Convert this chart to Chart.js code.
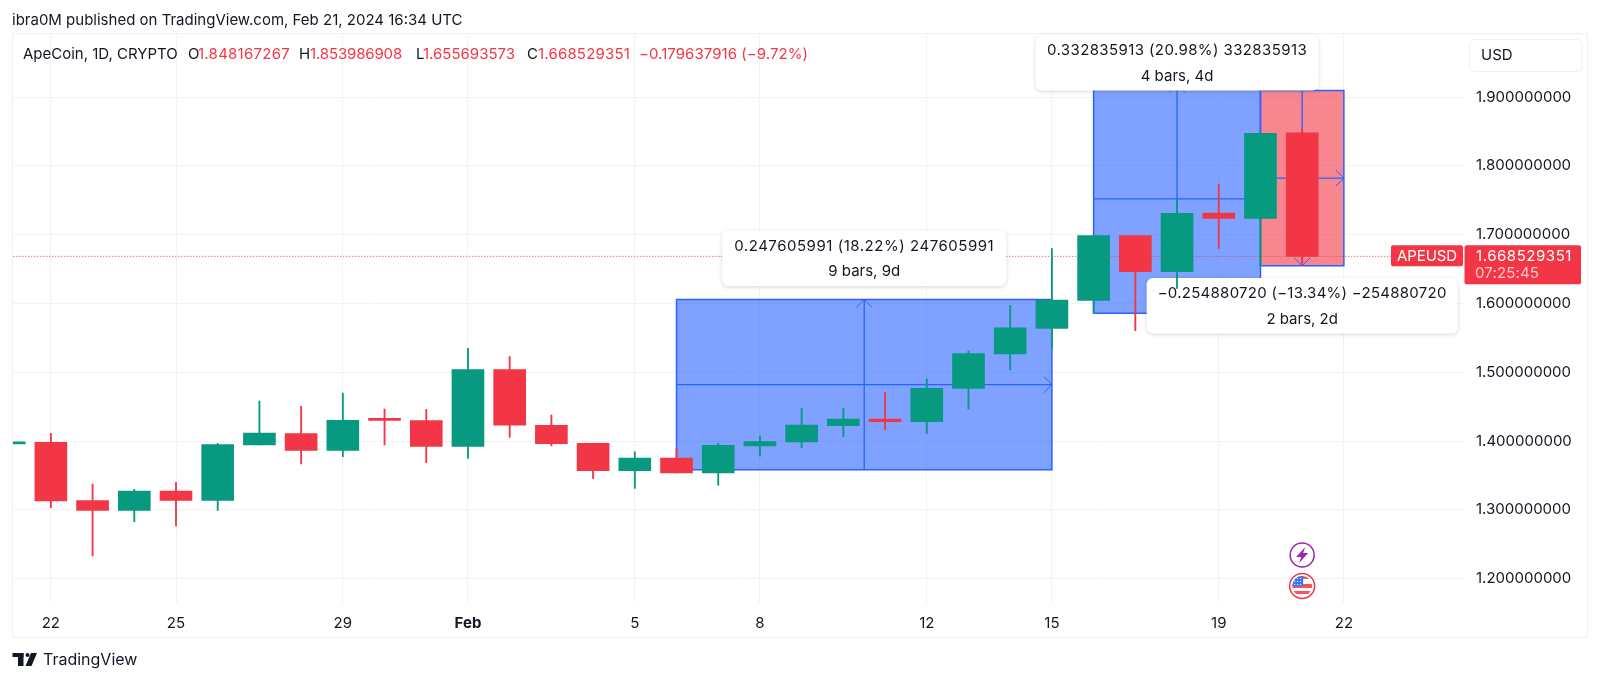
<!DOCTYPE html>
<html><head><meta charset="utf-8">
<style>html,body{margin:0;padding:0;background:#fff}canvas{display:block}</style>
<script src="https://cdn.jsdelivr.net/npm/chart.js@4"></script>
</head><body><canvas id="c" width="1600" height="682"></canvas>
<script>
// Candles, one per day from 21 Jan (index -1) to 21 Feb 2024 (index 30)
const dayIndex = [-1,0,1,2,3,4,5,6,7,8,9,10,11,12,13,14,15,16,17,18,19,20,21,22,23,24,25,26,27,28,29,30];
const opens  = [1.3960,1.3982,1.3134,1.2994,1.3275,1.3139,1.3943,1.4108,1.3866,1.4309,1.4297,1.3924,1.5038,1.4230,1.3967,1.3570,1.3754,1.3536,1.3929,1.3987,1.4224,1.4321,1.4282,1.4767,1.5266,1.5638,1.6046,1.6986,1.6463,1.7315,1.7238,1.848167267];
const highs  = [1.3985,1.4113,1.3376,1.3299,1.3401,1.3968,1.4583,1.4505,1.4699,1.4466,1.4462,1.5348,1.5227,1.4379,1.3967,1.3846,1.3895,1.3967,1.4074,1.4476,1.4476,1.4709,1.4903,1.5310,1.5973,1.6797,1.6986,1.6986,1.7504,1.7737,1.8473,1.853986908];
const lows   = [1.3940,1.3032,1.2330,1.2829,1.2766,1.2994,1.3943,1.3667,1.3774,1.3943,1.3687,1.3749,1.4054,1.3929,1.3458,1.3314,1.3536,1.3361,1.3783,1.3904,1.4064,1.4161,1.4113,1.4467,1.5033,1.5348,1.5857,1.5605,1.6220,1.6802,1.6560,1.655693573];
const closes = [1.3980,1.3129,1.2994,1.3275,1.3139,1.3948,1.4118,1.3866,1.4302,1.4302,1.3924,1.5038,1.4230,1.3963,1.3570,1.3754,1.3536,1.3938,1.3992,1.4234,1.4321,1.4282,1.4767,1.5271,1.5648,1.6050,1.6986,1.6463,1.7310,1.7238,1.8473,1.668529351];

const xTickValues = [0,3,7,10,14,17,21,24,28,31];
const xTickLabels = ['22','25','29','Feb','5','8','12','15','19','22'];
const yTickValues = [1.2,1.3,1.4,1.5,1.6,1.7,1.8,1.9];
const lastPrice = 1.668529351;

// Measure tools: start day, end day, bottom and top price
const measureStart  = [15, 25, 29];
const measureEnd    = [24, 29, 31];
const measureBottom = [1.3582, 1.5857, 1.6549];
const measureTop    = [1.6058, 1.9185, 1.9098];
const measureFills  = ['rgba(41,98,255,0.6)','rgba(41,98,255,0.6)','rgba(242,54,69,0.6)'];
const measureUp     = [true, true, false];
const measureText1  = ['0.247605991 (18.22%) 247605991','0.332835913 (20.98%) 332835913','\u22120.254880720 (\u221213.34%) \u2212254880720'];
const measureText2  = ['9 bars, 9d','4 bars, 4d','2 bars, 2d'];

const UP='#089981', DOWN='#f23645', BLUE='#2962ff', INK='#131722', GRID='#f2f3f5';
const FONT='Inter, "Noto Sans", sans-serif';
const candleColors = opens.map((o,i)=> closes[i]>=o ? UP : DOWN);

const line = (pts, extra) => Object.assign({type:'line', data:pts, pointRadius:0, borderWidth:1.3, borderColor:BLUE, fill:false, tension:0, order:10}, extra);
const datasets = [];
datasets.push({type:'bar', id:'bodies', data:dayIndex.map((d,i)=>({x:d,y:[Math.min(opens[i],closes[i]),Math.max(opens[i],closes[i])]})),
  backgroundColor:candleColors, barThickness:32, grouped:false, minBarLength:2, order:1});
datasets.push({type:'bar', id:'wicks', data:dayIndex.map((d,i)=>({x:d,y:[lows[i],highs[i]]})),
  backgroundColor:candleColors, barThickness:1.2, grouped:false, order:2});
datasets.push(line([{x:-5,y:lastPrice},{x:40,y:lastPrice}],{borderColor:DOWN,borderWidth:1,borderDash:[1,2],order:3}));
measureStart.forEach((s,i)=>{
  const e=measureEnd[i], b=measureBottom[i], t=measureTop[i], mx=(s+e)/2, my=(b+t)/2, o=20-i*3;
  datasets.push(line([{x:s,y:t},{x:e,y:t}],{fill:'+1',backgroundColor:measureFills[i],borderWidth:0,order:o+2}));
  datasets.push(line([{x:s,y:b},{x:e,y:b}],{borderWidth:0,order:o+2}));
  datasets.push(line([{x:s,y:b},{x:s,y:t},{x:e,y:t},{x:e,y:b},{x:s,y:b}],{borderWidth:1.5,order:o+1}));
  datasets.push(line([{x:s,y:my},{x:e,y:my}],{order:o}));
  datasets.push(line([{x:mx,y:b},{x:mx,y:t}],{order:o}));
});

function box(ctx,x,y,w,h,r,fill,stroke){
  ctx.beginPath();ctx.roundRect(x,y,w,h,r);
  if(fill){ctx.fillStyle=fill;ctx.fill();}
  if(stroke){ctx.strokeStyle=stroke;ctx.lineWidth=1;ctx.stroke();}
}
// Draws text, optionally tracked out so its width reaches fitW (the reference digits are tabular)
function txt(ctx,s,x,y,color,size,align,weight,fitW){
  ctx.save();
  ctx.fillStyle=color;ctx.font=(weight||'400')+' '+size+'px '+FONT;ctx.textAlign=align||'left';ctx.textBaseline='middle';
  if(fitW){ctx.letterSpacing='0px';const w=ctx.measureText(s).width;ctx.letterSpacing=((fitW-w)/s.length).toFixed(3)+'px';}
  ctx.fillText(s,x,y);
  ctx.restore();
}
const underCandles={id:'underCandles',beforeDatasetDraw(chart,args){
  if(chart.data.datasets[args.index].id!=='wicks')return;
  const c=chart.ctx,X=chart.scales.x,Y=chart.scales.y,L=8;
  c.save();c.strokeStyle=BLUE;c.lineWidth=1;
  measureStart.forEach((s,i)=>{
    const xe=X.getPixelForValue(measureEnd[i]),xm=X.getPixelForValue((s+measureEnd[i])/2);
    const ym=Y.getPixelForValue((measureBottom[i]+measureTop[i])/2);
    const yt=Y.getPixelForValue(measureUp[i]?measureTop[i]:measureBottom[i]),d=measureUp[i]?1:-1;
    c.beginPath();c.moveTo(xe-L,ym-L);c.lineTo(xe,ym);c.lineTo(xe-L,ym+L);
    c.moveTo(xm-L,yt+d*L);c.lineTo(xm,yt);c.lineTo(xm+L,yt+d*L);c.stroke();
  });
  // measure labels sit under the candles: a wick shows through the lower label
  const tops=[230.5,35,278], ws=[284,283,311], fit=[260,260,289];
  measureStart.forEach((s,i)=>{
    const cx=X.getPixelForValue((s+measureEnd[i])/2),t=tops[i],w=ws[i],h=55.5;
    c.save();c.shadowColor='rgba(0,0,0,0.16)';c.shadowBlur=4;c.shadowOffsetY=1;
    box(c,cx-w/2,t,w,h,6,'#fff');c.restore();
    txt(c,measureText1[i],cx,t+15.5,INK,15,'center','400',fit[i]);
    txt(c,measureText2[i],cx,t+41,INK,15,'center');
  });
  c.restore();
}};
const overlay={id:'overlay',afterDraw(chart){
  const c=chart.ctx,X=chart.scales.x,Y=chart.scales.y;
  c.save();
  // pane frame
  c.strokeStyle='#eef0f3';c.lineWidth=1;c.strokeRect(12.5,33.5,1575,604);
  // header
  txt(c,'ibra0M published on TradingView.com, Feb 21, 2024 16:34 UTC',12,20,INK,15);
  txt(c,'ApeCoin, 1D, CRYPTO',23,54,INK,15);
  [['O',188,opens,198],['H',299,highs,310],['L',416,lows,423],['C',527,closes,538]].forEach(([k,x,a,vx])=>{
    txt(c,k,x,54,INK,15);
    txt(c,a[a.length-1].toFixed(9),vx,54,DOWN,15,'left','400',92);
  });
  const last=closes.length-1;
  txt(c,'\u2212'+Math.abs(closes[last]-opens[last]).toFixed(9)+' (\u22129.72%)',639,54,DOWN,15,'left','400',169);
  // last-price tags
  const py=Y.getPixelForValue(lastPrice);
  box(c,1391,py-11,72,21,2,DOWN);
  txt(c,'APEUSD',1397,py,'#fff',15,'left','400',60);
  box(c,1464.5,py-11,116.5,39,2,DOWN);
  txt(c,lastPrice.toFixed(9),1476,py,'#fff',15,'left','400',96);
  txt(c,'07:25:45',1475,py+17,'rgba(255,255,255,0.72)',15,'left','400',64);
  // currency button
  box(c,1469.5,39.5,112.5,32,5,'#fff','#eef0f3');
  txt(c,'USD',1481,55,INK,15);
  // event icons
  const ex=X.getPixelForValue(30);
  c.beginPath();c.arc(ex,555,12,0,7);c.fillStyle='#fff';c.fill();c.strokeStyle='#9c27b0';c.lineWidth=1.5;c.stroke();
  c.beginPath();[[3,-8],[-6,2],[-1,2],[-3,8],[6,-2],[1,-2]].forEach(([a,b],i)=>i?c.lineTo(ex+a,555+b):c.moveTo(ex+a,555+b));c.closePath();c.fillStyle='#9c27b0';c.fill();
  const fy=586;
  c.beginPath();c.arc(ex,fy,12.5,0,7);c.fillStyle='#fff';c.fill();c.strokeStyle=DOWN;c.lineWidth=1.5;c.stroke();
  c.save();c.beginPath();c.arc(ex,fy,10,0,7);c.clip();
  c.fillStyle='#f7525f';c.fillRect(ex-10,fy-10,20,3);c.fillRect(ex-10,fy-2,20,4);c.fillRect(ex-10,fy+5,20,3);
  c.fillStyle='#3179f5';c.fillRect(ex-10,fy-10,11,10);
  c.fillStyle='#fff';for(let a=0;a<3;a++)for(let b=0;b<3;b++)c.fillRect(ex-8+a*3,fy-8+b*3,1,1);
  c.restore();
  // TradingView mark and name
  c.fillStyle=INK;
  c.fillRect(12.5,653,11,4);c.fillRect(18,653,5.5,13);
  c.beginPath();c.arc(27.5,655,2,0,7);c.fill();
  c.beginPath();c.moveTo(31,653);c.lineTo(37,653);c.lineTo(31.5,666);c.lineTo(25.5,666);c.closePath();c.fill();
  txt(c,'TradingView',43,660,INK,16);
  c.restore();
}};

new Chart(document.getElementById('c'),{
  type:'bar',
  data:{datasets},
  plugins:[underCandles,overlay],
  options:{
    responsive:false,animation:false,devicePixelRatio:1,
    layout:{padding:{left:12.5,right:13,top:33,bottom:44}},
    plugins:{legend:{display:false},tooltip:{enabled:false},title:{display:false}},
    scales:{
      x:{type:'linear',offset:false,min:-0.92,max:33.88,
        afterBuildTicks(s){s.ticks=xTickValues.map(v=>({value:v}));},
        afterFit(s){s.height=35;},
        grid:{color:GRID,offset:false,drawTicks:false},border:{display:false},
        ticks:{autoSkip:false,maxRotation:0,padding:11,color:INK,
          font:c=>({family:FONT,size:15,weight:c.tick&&c.tick.value===10?'700':'400'}),
          callback:v=>xTickLabels[xTickValues.indexOf(v)]}},
      y:{type:'linear',position:'right',min:1.1647,max:1.9932,
        afterBuildTicks(s){s.ticks=yTickValues.map(v=>({value:v}));},
        afterFit(s){s.width=123;},
        grid:{color:GRID,drawTicks:false},border:{display:false},
        ticks:{padding:12,color:INK,font:{family:FONT,size:15},crossAlign:'near',align:'center',callback:v=>v.toFixed(9)}}
    }
  }
});
</script></body></html>
